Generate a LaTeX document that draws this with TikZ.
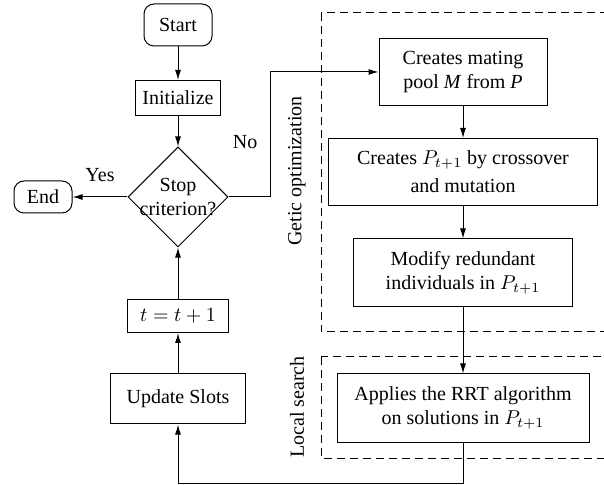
\documentclass[tikz,border=0pt]{standalone}
\usepackage{fontspec}
\setmainfont{Liberation Serif}
\usetikzlibrary{arrows.meta,shapes.geometric,positioning}
\tikzstyle{term}=[draw,rounded corners=5pt,align=center]
\tikzstyle{proc}=[draw,align=center,inner sep=2pt]
\tikzstyle{dec}=[draw,diamond,aspect=1,align=center,inner sep=-7pt,minimum size=50pt]
\tikzstyle{zone}=[dash pattern=on 4pt off 2.5pt]
\tikzstyle{flow}=[->,>={Latex[length=5pt,width=3pt]}]

\begin{document}
\begin{tikzpicture}[line width=0.5pt,node distance=36.5pt]
\path[use as bounding box,clip] (0,0) rectangle (302pt,-242.5pt);

\node[term,minimum width=34pt,minimum height=21pt] (start) at (89pt,-12.5pt) {Start};
\node[proc,below of=start,minimum width=42.5pt,minimum height=17.5pt] (init) {Initialize};
\node[dec,below of=init,node distance=49.5pt] (stop) {Stop\\criterion?};
\node[term,left of=stop,node distance=67.5pt,minimum width=29pt,minimum height=16pt] (end) {End};
\node[proc,below of=stop,node distance=59.5pt,minimum width=50.5pt,minimum height=16.5pt] (tinc) {$t=t+1$};
\node[proc,below of=tinc,node distance=41.5pt,minimum width=67.5pt,minimum height=25pt] (upd) {Update Slots};

\node[proc,minimum width=84pt,minimum height=33.5pt] (mate) at (231.5pt,-36pt) {Creates mating\\pool \textit{M} from \textit{P}};
\node[proc,below of=mate,node distance=50pt,minimum width=134.5pt,minimum height=33.5pt] (cross) {Creates $P_{t+1}$ by crossover\\[2pt]and mutation};
\node[proc,below of=cross,node distance=50.5pt,minimum width=109.5pt,minimum height=34pt] (modify) {Modify redundant\\individuals in $P_{t+1}$};
\node[proc,below of=modify,node distance=67.5pt,minimum width=126pt,minimum height=34pt] (rrt) {Applies the RRT algorithm\\on solutions in $P_{t+1}$};

% dashed zones
\draw[zone] (160.5pt,-6.5pt) rectangle (310pt,-166pt);
\draw[zone] (160.5pt,-178.5pt) rectangle (310pt,-229pt);
\node[rotate=90] (golbl) at (148.5pt,-85.5pt) {Getic optimization};
\node[rotate=90] (lslbl) at (148.5pt,-203.5pt) {Local search};

\draw[flow] (start) -- (init);
\draw[flow] (init) -- (stop);
\draw[flow] (stop) -- node[above=4pt]{Yes} (end);
\draw[flow] (stop.east) -- ++(21pt,0) |- node[pos=0.22,left=3pt]{No} (mate);
\draw[flow] (mate) -- (cross);
\draw[flow] (cross) -- (modify);
\draw[flow] (modify) -- (rrt);
\draw[flow] (rrt.south) -- ++(0,-20.5pt) -| (upd.south);
\draw[flow] (upd) -- (tinc);
\draw[flow] (tinc) -- (stop);
\end{tikzpicture}
\end{document}
